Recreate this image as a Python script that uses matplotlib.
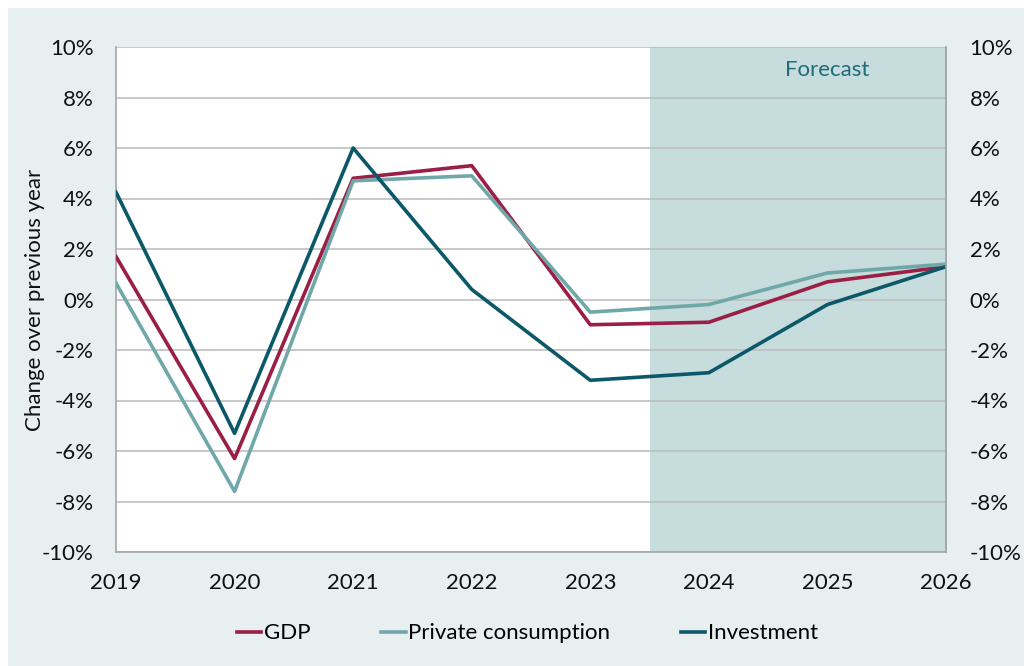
import matplotlib
matplotlib.use("Agg")
import matplotlib.pyplot as plt
from matplotlib.patches import Rectangle
from matplotlib.ticker import FuncFormatter, MultipleLocator

years = [2019, 2020, 2021, 2022, 2023, 2024, 2025, 2026]
gdp = [1.7, -6.3, 4.8, 5.3, -1.0, -0.9, 0.7, 1.3]
private_consumption = [0.65, -7.6, 4.7, 4.9, -0.5, -0.2, 1.05, 1.4]
investment = [4.25, -5.3, 6.0, 0.4, -3.2, -2.9, -0.2, 1.3]
forecast_start = 2023.5

plt.rcParams['font.family'] = ['Lato', 'DejaVu Sans']

fig = plt.figure(figsize=(10.24, 6.66), dpi=100)
fig.patch.set_facecolor('white')
fig.patches.append(Rectangle((8/1024, 0), 1, 1 - 8/666,
                             transform=fig.transFigure, facecolor='#e7eff0',
                             edgecolor='none', zorder=-10))

ax = fig.add_axes([116/1024, 1 - 552/666, (946-116)/1024, (552-47)/666])
ax.set_facecolor('white')
ax.set_xlim(2019, 2026)
ax.set_ylim(-10, 10)
ax.axvspan(forecast_start, 2026, color='#c6dcdd', zorder=0, lw=0)
ax.yaxis.set_major_locator(MultipleLocator(2))
ax.grid(axis='y', color='#bfbfbf', lw=1.2, zorder=1)
ax.grid(axis='x', visible=False)

ax.plot(years, gdp, color='#9b1f45', lw=2.6, label='GDP', zorder=3)
ax.plot(years, private_consumption, color='#70a8aa', lw=2.6, label='Private consumption', zorder=3)
ax.plot(years, investment, color='#0b5868', lw=2.6, label='Investment', zorder=4)

pct = FuncFormatter(lambda v, p: f"{v:.0f}%")
ax.yaxis.set_major_formatter(pct)
ax.set_xticks(years)
ax.tick_params(axis='both', length=0, labelsize=16, colors='#111111')
ax.tick_params(axis='x', pad=15)
ax.tick_params(axis='y', pad=16)

ax2 = ax.twinx()
ax2.set_ylim(-10, 10)
ax2.yaxis.set_major_locator(MultipleLocator(2))
ax2.yaxis.set_major_formatter(pct)
ax2.tick_params(axis='y', length=0, labelsize=16, colors='#111111', pad=17)
for s in ['top', 'left', 'bottom']:
    ax2.spines[s].set_visible(False)
ax2.spines['right'].set_color('#a6a6a6')
ax2.spines['right'].set_linewidth(1.2)

ax.spines['top'].set_visible(False)
for s in ['left', 'right', 'bottom']:
    ax.spines[s].set_color('#a6a6a6')
    ax.spines[s].set_linewidth(1.2)

ax.set_ylabel('Change over previous year', fontsize=16, color='#111111')
ax.yaxis.set_label_coords(-0.086, 0.5)
ax.text(2025.0, 9.1, 'Forecast', fontsize=16, color='#1f6b78', ha='center', va='center')

fig.legend(handles=ax.get_lines(), loc='center', bbox_to_anchor=(0.515, 0.049), ncol=3,
           frameon=False, fontsize=16, handlelength=1.1, handletextpad=0.1, columnspacing=3.2)

fig.savefig('out.png', dpi=100, facecolor=fig.get_facecolor())
